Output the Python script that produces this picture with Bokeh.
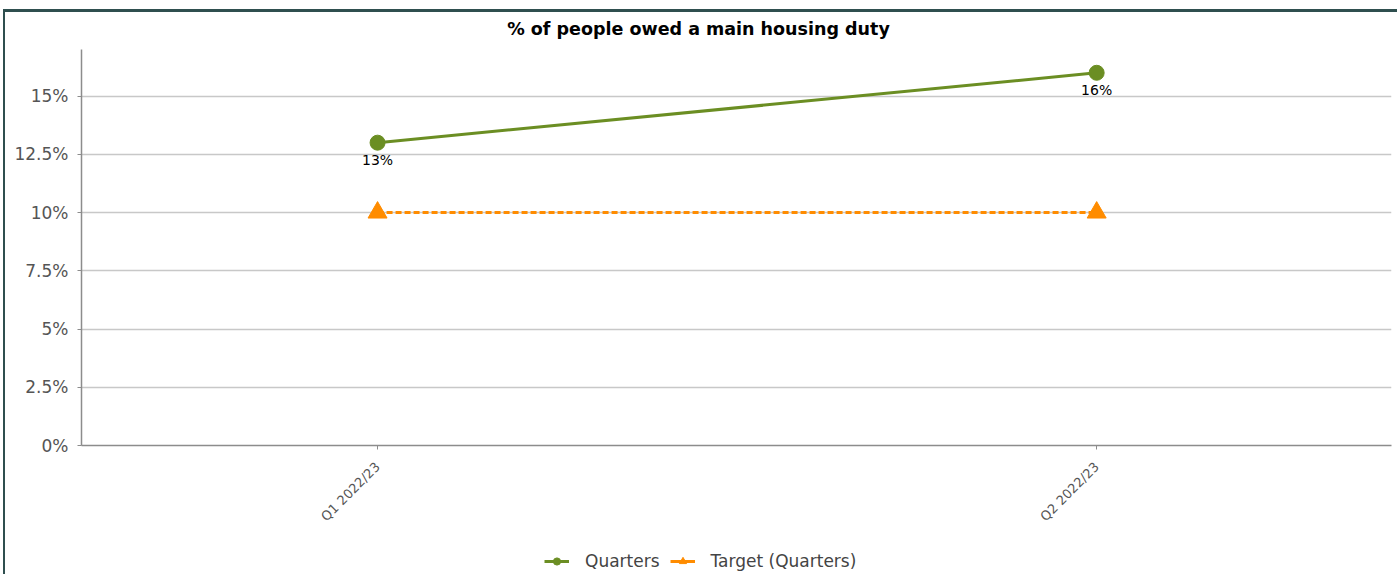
import math
from bokeh.plotting import figure
from bokeh.layouts import column, row
from bokeh.models import (FixedTicker, Range1d, Legend, LegendItem,
                          ColumnDataSource, LabelSet, Label, Div)
from bokeh.embed import file_html
from bokeh.resources import INLINE
from bokeh.core.properties import value

# ---- data ----
categories = ["Q1 2022/23", "Q2 2022/23"]
quarters = [0.13, 0.16]
target = [0.10, 0.10]
quarter_labels = ["13%", "16%"]
y_ticks = [0, 0.025, 0.05, 0.075, 0.10, 0.125, 0.15]
y_tick_labels = ["0%", "2.5%", "5%", "7.5%", "10%", "12.5%", "15%"]
title_text = "% of people owed a main housing duty"

FONT = "DejaVu Sans"
GREEN = "#6B8E23"
ORANGE = "#FF8C00"
BORDER = "#2F4F4F"

xs = list(range(len(categories)))

# ---- title strip ----
tt = figure(width=1392, height=37, output_backend="svg", toolbar_location=None,
            x_range=Range1d(0, 1), y_range=Range1d(0, 1),
            min_border=0, x_axis_location=None, y_axis_location=None)
tt.outline_line_color = None
tt.xgrid.grid_line_color = None
tt.ygrid.grid_line_color = None
tt.add_layout(Label(x=617, y=21, x_units="screen", y_units="screen",
                    text=title_text, text_align="center", text_baseline="middle",
                    text_font=FONT, text_font_size="17.5px",
                    text_font_style="bold", text_color="#000000"))

# ---- main chart ----
p = figure(width=1392, height=496, output_backend="svg", toolbar_location=None,
           x_range=Range1d(-0.4117, 1.410), y_range=Range1d(0, 0.17),
           min_border_left=76, min_border_right=6, min_border_top=0,
           min_border_bottom=100)

p.outline_line_color = None
p.background_fill_color = "white"
p.border_fill_color = "white"

# axes
p.xaxis.ticker = FixedTicker(ticks=xs)
p.xaxis.major_label_overrides = {i: c for i, c in zip(xs, categories)}
p.xaxis.major_label_orientation = math.pi / 4
p.yaxis.ticker = FixedTicker(ticks=y_ticks)
p.yaxis.major_label_overrides = {t: l for t, l in zip(y_ticks, y_tick_labels)}

for ax in (p.xaxis[0], p.yaxis[0]):
    ax.axis_line_color = "#8c8c8c"
    ax.axis_line_width = 1.5
    ax.major_tick_line_color = "#8c8c8c"
    ax.major_tick_in = 0
    ax.major_tick_out = 4
    ax.minor_tick_line_color = None
    ax.major_label_text_font = FONT
    ax.major_label_text_color = "#555555"

p.yaxis.major_label_text_font_size = "17px"
p.yaxis.major_label_standoff = 9
p.xaxis.major_label_text_font_size = "13px"
p.xaxis.major_label_standoff = 15

p.xgrid.grid_line_color = None
p.ygrid.ticker = FixedTicker(ticks=y_ticks)
p.ygrid.grid_line_color = "#c8c8c8"
p.ygrid.grid_line_width = 1.5

# series
src = ColumnDataSource(dict(x=xs, q=quarters, t=target, lab=quarter_labels))
p.line("x", "t", source=src, line_color=ORANGE, line_width=3, line_dash="6 3")
p.scatter("x", "t", source=src, marker="triangle", size=19,
          fill_color=ORANGE, line_color=ORANGE)
p.line("x", "q", source=src, line_color=GREEN, line_width=3)
p.scatter("x", "q", source=src, marker="circle", size=15,
          fill_color=GREEN, line_color=GREEN)

labels = LabelSet(x="x", y="q", text="lab", source=src, text_align="center",
                  text_baseline="top", y_offset=-9, text_font=value(FONT),
                  text_font_size="14px", text_color="#000000")
p.add_layout(labels)

# ---- legend strip (separate figure so that it is not clipped) ----
lg = figure(width=1392, height=29, output_backend="svg", toolbar_location=None,
            x_range=Range1d(-0.4117, 1.410), y_range=Range1d(10, 11),
            min_border=0, x_axis_location=None, y_axis_location=None)
lg.outline_line_color = None
lg.xgrid.grid_line_color = None
lg.ygrid.grid_line_color = None
# same series (outside the strip's visible y range: only their legend glyphs show)
ql = lg.line("x", "q", source=src, line_color=GREEN, line_width=3)
qm = lg.scatter("x", "q", source=src, marker="circle", size=13,
                fill_color=GREEN, line_color=GREEN)
tl = lg.line("x", "t", source=src, line_color=ORANGE, line_width=3)
tm = lg.scatter("x", "t", source=src, marker="triangle", size=16,
                fill_color=ORANGE, line_color=ORANGE)
legend = Legend(items=[LegendItem(label="Quarters", renderers=[ql, qm]),
                       LegendItem(label="Target (Quarters)", renderers=[tl, tm])],
                orientation="horizontal", location=(463, 3),
                label_text_font=FONT, label_text_font_size="17px",
                label_text_color="#444444", glyph_width=25, glyph_height=18,
                label_height=18, label_standoff=16,
                spacing=10, border_line_color=None, background_fill_alpha=0,
                margin=0, padding=0)
lg.add_layout(legend, "center")

top_line = Div(text="", width=1394, height=3, margin=(9, 0, 0, 3),
               styles={"background-color": BORDER})
left_line = Div(text="", width=2, height=562, margin=(0, 0, 0, 3),
                styles={"background-color": BORDER})

layout = column(top_line, row(left_line, column(tt, p, lg, spacing=0), spacing=0),
                spacing=0)

open("out.html", "w").write(file_html(layout, INLINE))
